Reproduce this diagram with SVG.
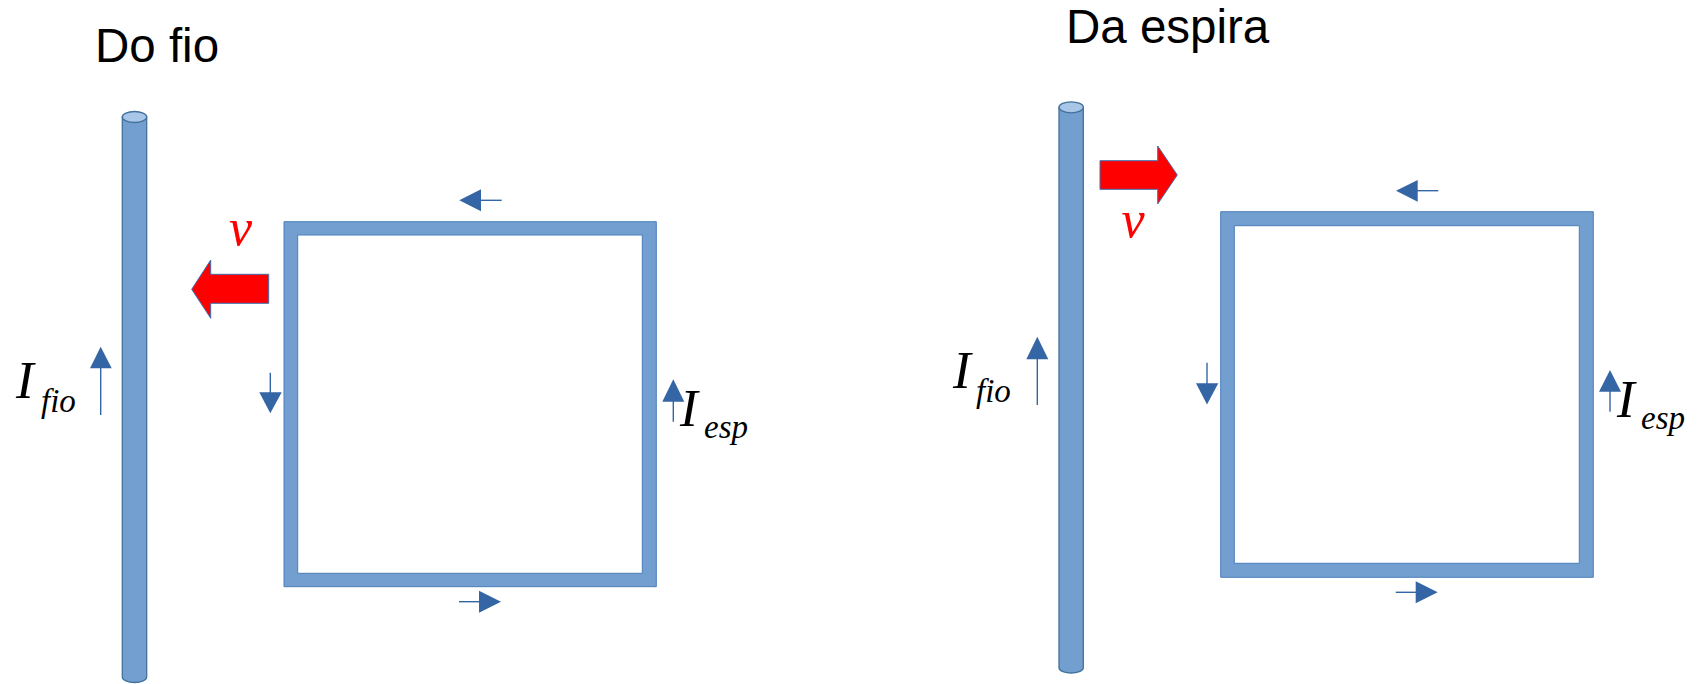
<svg xmlns="http://www.w3.org/2000/svg" width="1698" height="684" viewBox="0 0 1698 684">
<style>
.title{font-family:"Liberation Sans",Arial,sans-serif;font-size:47.5px;fill:#000}
.mI{font-family:"Liberation Serif","Times New Roman",serif;font-style:italic;font-size:53px;fill:#000}
.msub{font-family:"Liberation Serif","Times New Roman",serif;font-style:italic;font-size:33px;fill:#000}
.vel{font-family:"Liberation Serif","Times New Roman",serif;font-style:italic;font-size:52px;fill:#ff0000}
.cyl{fill:#729fcf;stroke:#41719c;stroke-width:1.3}
.cyltop{fill:#a9c5e8;stroke:#41719c;stroke-width:1.3}
.loop{fill:#729fcf;fill-rule:evenodd;stroke:#4a7ebb;stroke-width:1}
.red{fill:#ff0000;stroke:#3f6fb0;stroke-width:1}
.cl{stroke:#3465a4;stroke-width:1.4;fill:none}
.ch{fill:#3465a4}
</style>
<rect width="1698" height="684" fill="#fff"/>

<g id="left-title"><text class="title" x="95" y="62">Do fio</text></g>
<g id="right-title"><text class="title" x="1066" y="43">Da espira</text></g>

<g id="left-wire">
<path class="cyl" d="M122.3,117 L122.3,677 A12.2,5.5 0 0 0 146.7,677 L146.7,117 Z"/>
<ellipse class="cyltop" cx="134.5" cy="117" rx="12.2" ry="5.5"/>
</g>
<g id="right-wire">
<path class="cyl" d="M1059,107.3 L1059,668 A12.2,5.5 0 0 0 1083.3,668 L1083.3,107.3 Z"/>
<ellipse class="cyltop" cx="1071.2" cy="107.3" rx="12.2" ry="5.5"/>
</g>

<g id="left-loop">
<path class="loop" d="M284,221.7 H656.3 V586.7 H284 Z M297.7,235 V573.3 H642.3 V235 Z"/>
</g>
<g id="right-loop">
<path class="loop" d="M1220.7,211.7 H1593.3 V577.3 H1220.7 Z M1234.3,225.7 V563.3 H1579.3 V225.7 Z"/>
</g>

<g id="left-velocity">
<polygon class="red" points="191.7,289.3 210.7,260 210.7,274.3 268.7,274.3 268.7,303.3 210.7,303.3 210.7,318.3"/>
<text class="vel" x="229" y="245">v</text>
</g>
<g id="right-velocity">
<polygon class="red" points="1100,160.7 1157.7,160.7 1157.7,146 1177.3,175 1157.7,204 1157.7,189.3 1100,189.3"/>
<text class="vel" x="1121.5" y="236.7">v</text>
</g>

<g id="left-labels">
<text class="mI" x="16" y="398">I</text>
<text class="msub" x="41" y="411.7">fio</text>
<text class="mI" x="680" y="426">I</text>
<text class="msub" x="704" y="438.3">esp</text>
</g>
<g id="right-labels">
<text class="mI" x="953" y="388.3">I</text>
<text class="msub" x="976" y="401.7">fio</text>
<text class="mI" x="1617" y="416.7">I</text>
<text class="msub" x="1641" y="429.3">esp</text>
</g>

<g id="connectors">
<line class="cl" x1="100.7" y1="415" x2="100.7" y2="366"/>
<polygon class="ch" points="100.7,346.7 90,368.3 111.7,368.3"/>
<line class="cl" x1="270.3" y1="372.7" x2="270.3" y2="394"/>
<polygon class="ch" points="270.3,413.3 259.3,392.3 281.7,392.3"/>
<line class="cl" x1="501.7" y1="200.3" x2="479" y2="200.3"/>
<polygon class="ch" points="459.3,200.3 481,189.3 481,211.3"/>
<line class="cl" x1="459" y1="601.7" x2="481" y2="601.7"/>
<polygon class="ch" points="501,601.7 479,590.7 479,612.7"/>
<line class="cl" x1="673.3" y1="421.7" x2="673.3" y2="400"/>
<polygon class="ch" points="673.3,379.3 662.3,401.7 684.3,401.7"/>
<line class="cl" x1="1037.3" y1="405" x2="1037.3" y2="357"/>
<polygon class="ch" points="1037.3,336.7 1026.3,359.3 1048.3,359.3"/>
<line class="cl" x1="1207" y1="362.7" x2="1207" y2="385"/>
<polygon class="ch" points="1207,404.5 1196,383.3 1218.3,383.3"/>
<line class="cl" x1="1438.3" y1="190.7" x2="1416" y2="190.7"/>
<polygon class="ch" points="1396,190.7 1417.7,180 1417.7,201.7"/>
<line class="cl" x1="1395.7" y1="592.3" x2="1418" y2="592.3"/>
<polygon class="ch" points="1437.7,592.3 1415.7,581.3 1415.7,603.3"/>
<line class="cl" x1="1610" y1="411.7" x2="1610" y2="390"/>
<polygon class="ch" points="1610,370 1599,391.7 1621,391.7"/>
</g>
</svg>
